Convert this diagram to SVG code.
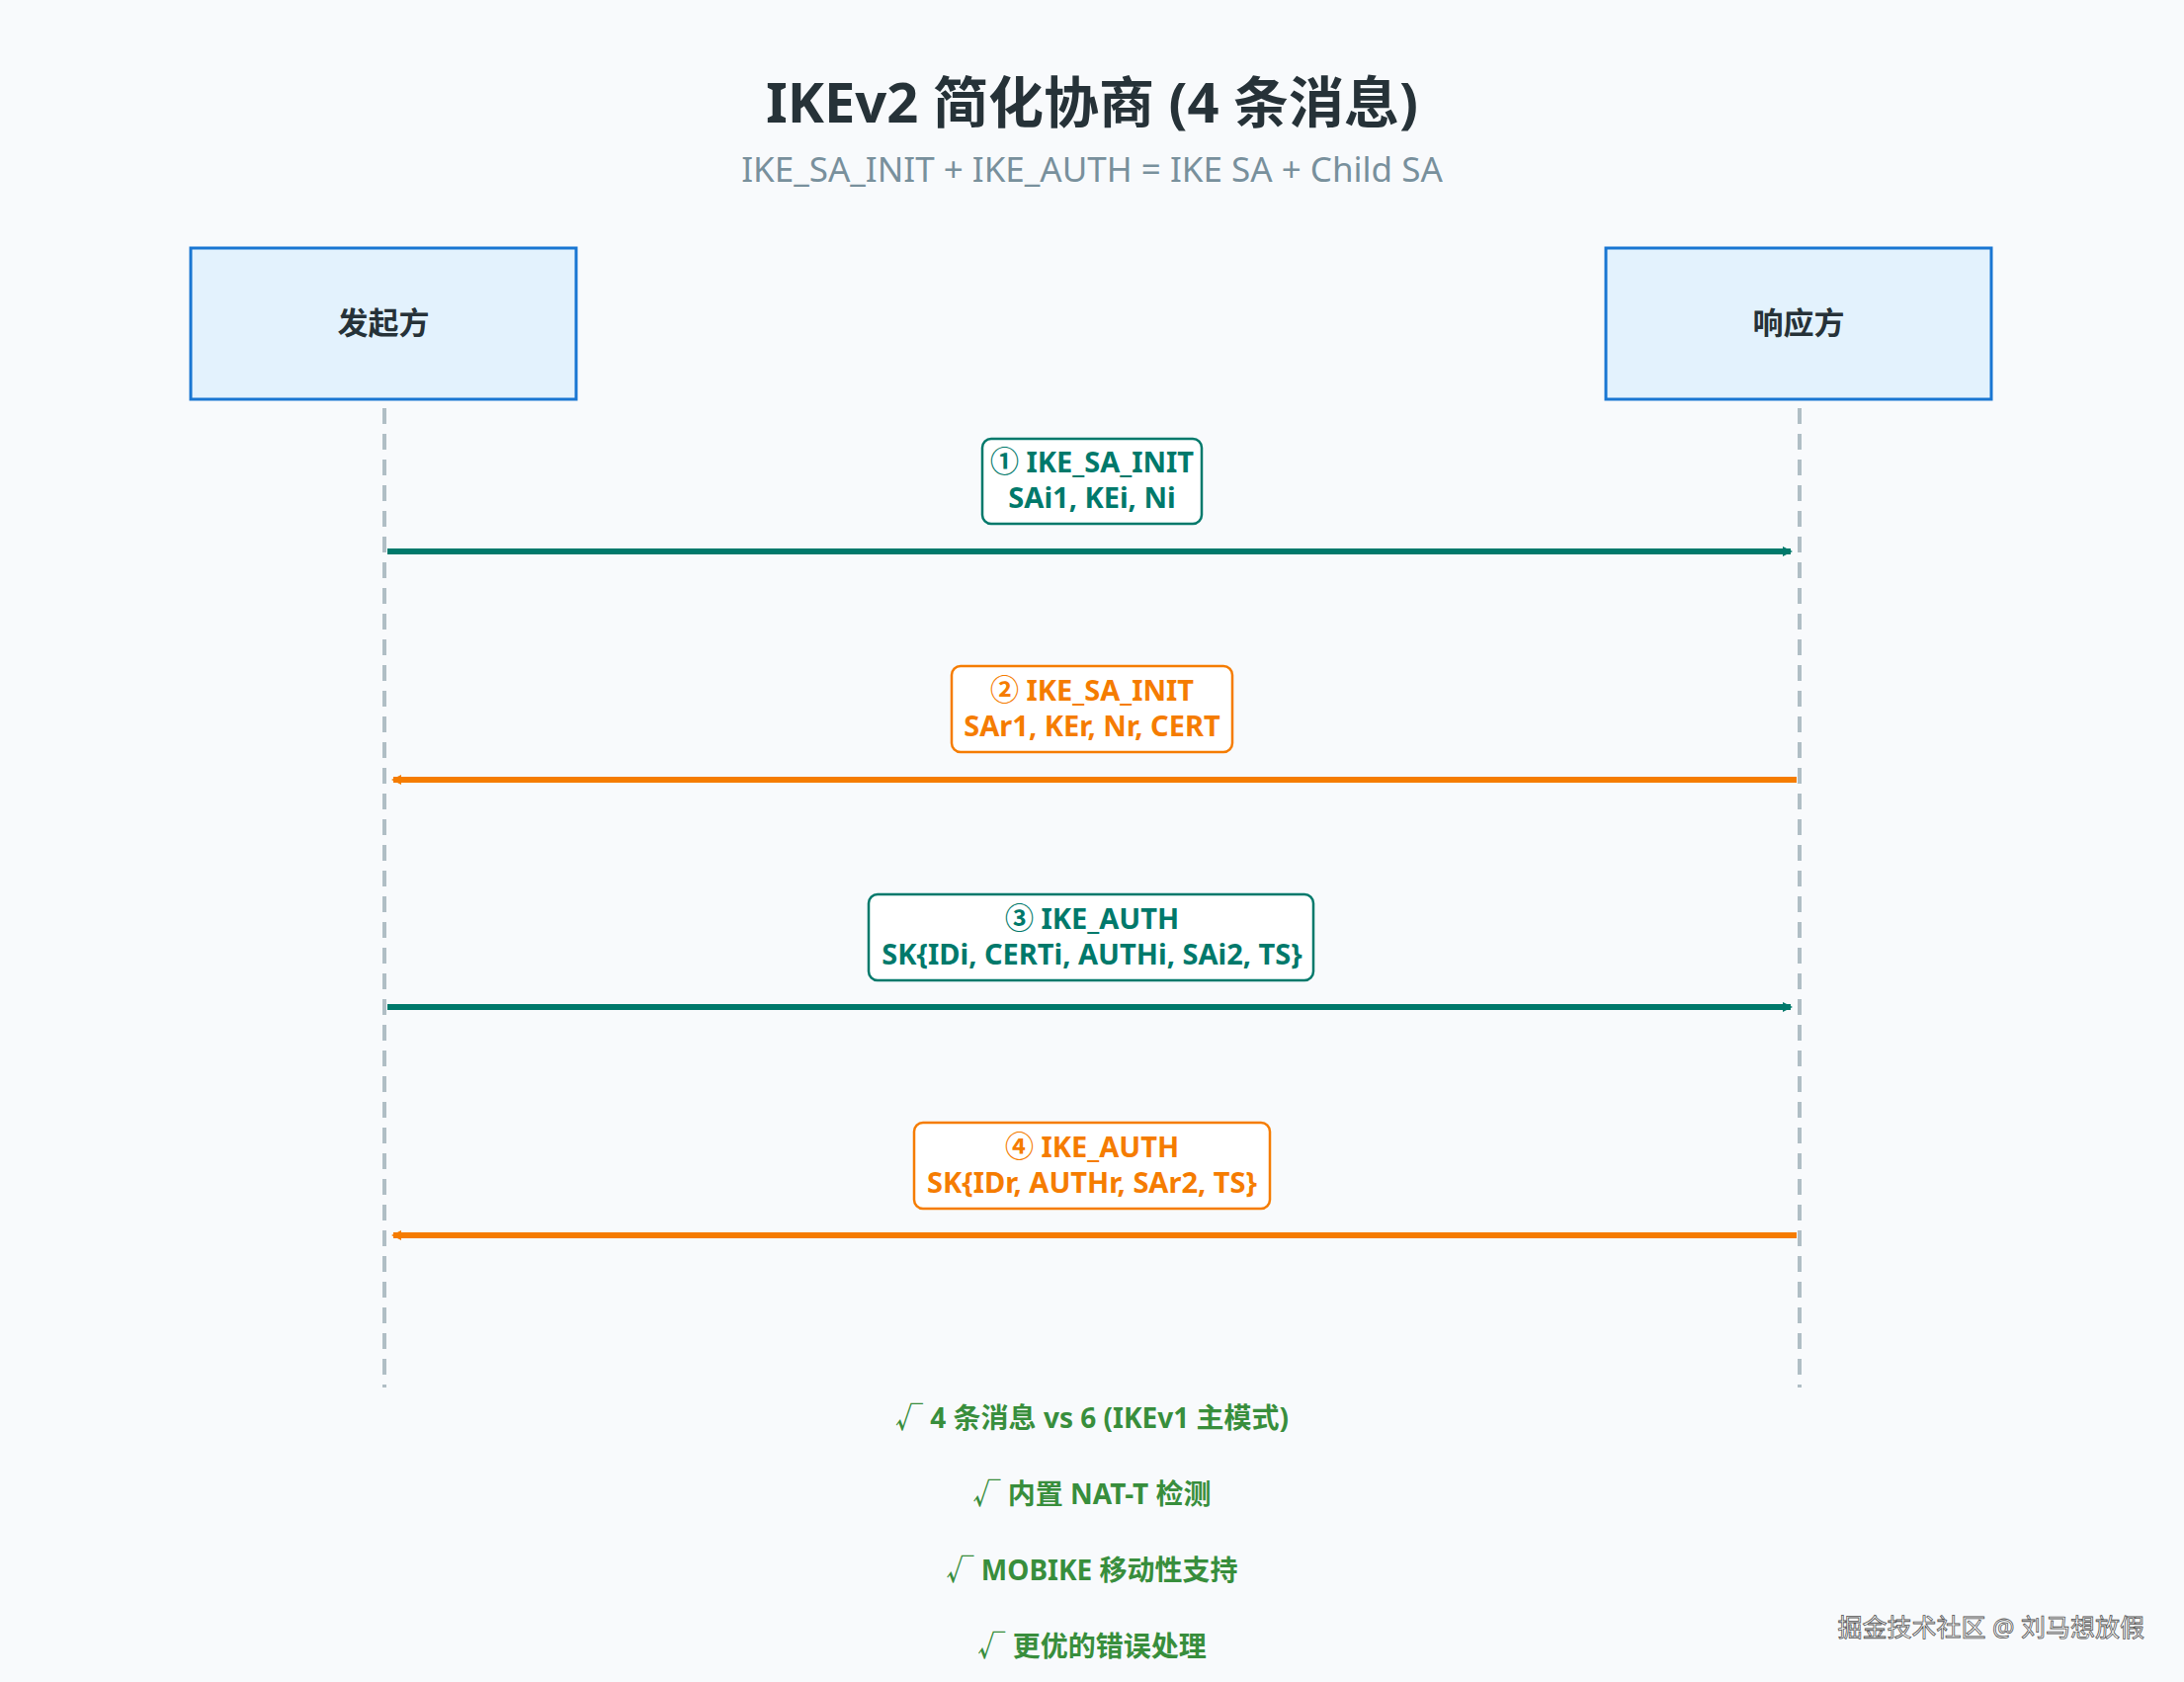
<svg xmlns="http://www.w3.org/2000/svg" width="2210" height="1702" viewBox="0 0 2210 1702">
<style>
text{font-family:"Noto Sans","Noto Sans CJK SC",sans-serif;text-anchor:middle}
.actor{fill:#E3F2FD;stroke:#1976D2;stroke-width:3}
.an{font-size:31px;font-weight:bold;fill:#263238}
.life{stroke:#B0BEC5;stroke-width:4;stroke-dasharray:16,10}
.lt{fill:#fff;stroke:#00796B;stroke-width:2.5}
.lo{fill:#fff;stroke:#F57C00;stroke-width:2.5}
.tt{font-size:29px;font-weight:bold;fill:#00796B}
.to{font-size:29px;font-weight:bold;fill:#F57C00}
.note{font-size:28px;font-weight:bold;fill:#388E3C}
</style>
<defs>
<marker id="mt" markerWidth="10" markerHeight="10" refX="8" refY="5" orient="auto" markerUnits="userSpaceOnUse" viewBox="0 0 10 10"><path d="M0,0L10,5L0,10z" fill="#00796B"/></marker>
<marker id="mo" markerWidth="10" markerHeight="10" refX="8" refY="5" orient="auto" markerUnits="userSpaceOnUse" viewBox="0 0 10 10"><path d="M0,0L10,5L0,10z" fill="#F57C00"/></marker>
</defs>
<rect width="2210" height="1702" fill="#F8FAFC"/>
<text x="1105" y="124" font-size="56" font-weight="bold" fill="#263238">IKEv2 简化协商 (4 条消息)</text>
<text x="1105" y="184" font-size="35" fill="#78909C">IKE_SA_INIT + IKE_AUTH = IKE SA + Child SA</text>
<g id="initiator"><rect class="actor" x="193" y="251" width="390" height="153"/><text class="an" x="388" y="338">发起方</text></g>
<g id="responder"><rect class="actor" x="1625" y="251" width="390" height="153"/><text class="an" x="1820" y="338">响应方</text></g>
<g id="lifelines"><line class="life" x1="389" y1="413" x2="389" y2="1404"/><line class="life" x1="1821" y1="413" x2="1821" y2="1404"/></g>
<g id="connectors">
<line x1="392" y1="558" x2="1812" y2="558" stroke="#00796B" stroke-width="6" marker-end="url(#mt)"/>
<line x1="1818" y1="789" x2="398" y2="789" stroke="#F57C00" stroke-width="6" marker-end="url(#mo)"/>
<line x1="392" y1="1019" x2="1812" y2="1019" stroke="#00796B" stroke-width="6" marker-end="url(#mt)"/>
<line x1="1818" y1="1250" x2="398" y2="1250" stroke="#F57C00" stroke-width="6" marker-end="url(#mo)"/>
</g>
<g id="m1"><rect class="lt" x="994" y="444" width="222" height="86" rx="9"/><text class="tt" x="1105" y="478">① IKE_SA_INIT</text><text class="tt" x="1105" y="514">SAi1, KEi, Ni</text></g>
<g id="m2"><rect class="lo" x="963" y="674" width="284" height="87" rx="9"/><text class="to" x="1105" y="709">② IKE_SA_INIT</text><text class="to" x="1105" y="745">SAr1, KEr, Nr, CERT</text></g>
<g id="m3"><rect class="lt" x="879" y="905" width="450" height="87" rx="9"/><text class="tt" x="1105" y="940">③ IKE_AUTH</text><text class="tt" x="1105" y="976">SK{IDi, CERTi, AUTHi, SAi2, TS}</text></g>
<g id="m4"><rect class="lo" x="925" y="1136" width="360" height="87" rx="9"/><text class="to" x="1105" y="1171">④ IKE_AUTH</text><text class="to" x="1105" y="1207">SK{IDr, AUTHr, SAr2, TS}</text></g>
<g id="notes">
<text class="note" x="1105" y="1445">√ 4 条消息 vs 6 (IKEv1 主模式)</text>
<text class="note" x="1105" y="1522">√ 内置 NAT-T 检测</text>
<text class="note" x="1105" y="1599">√ MOBIKE 移动性支持</text>
<text class="note" x="1105" y="1676">√ 更优的错误处理</text>
</g>
<text x="2170" y="1656" font-size="25" fill="#fff" stroke="#555" stroke-width="0.8" style="text-anchor:end">掘金技术社区 @ 刘马想放假</text>
</svg>
